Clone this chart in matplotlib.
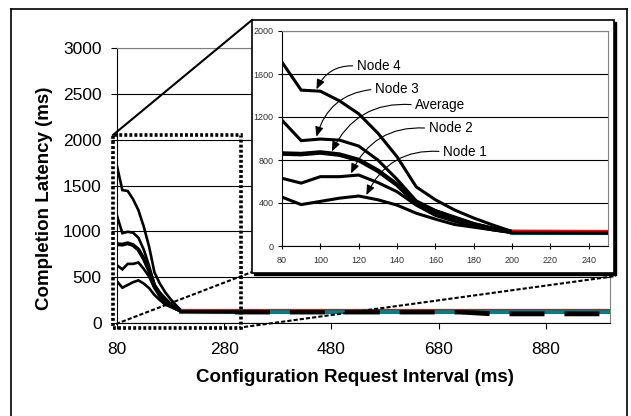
import matplotlib
matplotlib.use("Agg")
import matplotlib.pyplot as plt
from matplotlib.lines import Line2D
from matplotlib.patches import Rectangle

plt.rcParams['font.family'] = ['Liberation Sans', 'DejaVu Sans']

# data
x_ms = [80, 90, 100, 110, 120, 130, 140, 150, 160, 170, 180, 190, 200, 300]
node4 = [1710, 1450, 1440, 1350, 1230, 1050, 830, 550, 430, 335, 260, 195, 135, 125]
node3 = [1170, 980, 995, 985, 930, 800, 620, 420, 330, 270, 210, 165, 130, 125]
average = [860, 855, 870, 850, 800, 700, 570, 400, 320, 255, 200, 160, 130, 125]
node2 = [630, 585, 645, 645, 660, 590, 505, 380, 285, 230, 185, 150, 128, 122]
node1 = [455, 385, 415, 445, 465, 430, 380, 305, 250, 200, 175, 150, 125, 120]

x_tail = [200, 1000]
red_tail = [150, 150]
teal_tail = [120, 120]
x_dash = [300, 720, 780, 1000]
dash_tail = [120, 120, 100, 100]

main_xticks = [80, 280, 480, 680, 880]
main_yticks = [0, 500, 1000, 1500, 2000, 2500, 3000]
inset_xticks = [80, 100, 120, 140, 160, 180, 200, 220, 240]
inset_yticks = [0, 400, 800, 1200, 1600, 2000]

labels = ['Node 4', 'Node 3', 'Average', 'Node 2', 'Node 1']
label_xy = [(119, 1674), (128.5, 1458), (149.5, 1312), (156.5, 1095), (164, 877)]
tip_xy = [(98, 1458), (98, 1017), (106, 880), (116, 675), (124, 474)]

W, H = 631, 416
fig = plt.figure(figsize=(6.31, 4.16), dpi=100)


def fx(px):
    return px / W


def fy(py):
    return 1 - py / H


# outer frame (no bottom edge)
for xs, ys in [((11, 11), (9, 420)), ((11, 627), (9, 9)), ((627, 627), (9, 420))]:
    fig.add_artist(Line2D([fx(v) for v in xs], [fy(v) for v in ys], color='black', lw=1.2, zorder=1))


def draw_series(ax, lw, wide):
    ax.plot(x_tail, teal_tail, color='#008080', lw=wide * 0.85, zorder=3)
    ax.plot(x_dash, dash_tail, color='black', lw=wide, dashes=(7.2, 4.1), zorder=4)
    for ys in [node1, node2, node3, node4]:
        ax.plot(x_ms, ys, color='black', lw=lw, solid_joinstyle='miter', zorder=5)
    ax.plot(x_ms, average, color='black', lw=lw * 1.5, zorder=5)
    ax.plot(x_tail, red_tail, color='red', lw=0.9, zorder=6)


def style_axes(ax):
    for s in ['top', 'right']:
        ax.spines[s].set_color('#808080')
    for s in ['left', 'bottom']:
        ax.spines[s].set_color('black')
    ax.grid(axis='y', color='black', lw=0.8)
    ax.grid(axis='x', visible=False)
    ax.set_axisbelow(True)


# main chart
ax = fig.add_axes([fx(117), fy(323), fx(610) - fx(117), fy(48) - fy(323)])
draw_series(ax, 1.9, 3.5)
ax.set_xlim(80, 1000)
ax.set_ylim(0, 3000)
ax.set_xticks(main_xticks)
ax.set_yticks(main_yticks)
style_axes(ax)
ax.tick_params(axis='both', direction='out', length=4, labelsize=12.5, pad=7)
ax.tick_params(axis='x', pad=10)
ax.set_xlabel('Configuration Request Interval (ms)', fontsize=13.5, fontweight='bold')
ax.set_ylabel('Completion Latency (ms)', fontsize=13.5, fontweight='bold')
ax.xaxis.set_label_coords((355 - 117) / 493, (323 - 369) / 275)
ax.yaxis.set_label_coords((53 - 117) / 493, (323 - 198) / 275)

# dotted zoom box
ax.add_patch(Rectangle((72, -55), 240, 2105, fill=False, ec='black', lw=2.6,
                       ls=(0, (0.8, 0.6)), clip_on=False, zorder=7))

# connectors to the inset
fig.add_artist(Line2D([fx(113), fx(252)], [fy(135), fy(20)], color='black', lw=1.5, zorder=2))
fig.add_artist(Line2D([fx(116), fx(252)], [fy(324), fy(272)], color='black', lw=1.5,
                      ls=(0, (2, 1)), zorder=2))
fig.add_artist(Line2D([fx(244), fx(616)], [fy(327), fy(276)], color='black', lw=1.5,
                      ls=(0, (2, 1)), zorder=2))

# inset frame with shadow
fig.add_artist(Rectangle((fx(254), fy(275)), fx(616) - fx(254), fy(22) - fy(275),
                         transform=fig.transFigure, fc='black', ec='black', lw=1, zorder=3))
fig.add_artist(Rectangle((fx(252), fy(273)), fx(614) - fx(252), fy(20) - fy(273),
                         transform=fig.transFigure, fc='white', ec='black', lw=1.2, zorder=3))

# inset chart
ins = fig.add_axes([fx(282), fy(246), fx(608) - fx(282), fy(31) - fy(246)], zorder=4)
draw_series(ins, 2.2, 3.5)
ins.set_xlim(80, 250)
ins.set_ylim(0, 2000)
ins.set_xticks(inset_xticks)
ins.set_yticks(inset_yticks)
style_axes(ins)
ins.tick_params(axis='x', direction='inout', length=4, labelsize=6.5, labelcolor='#303030', pad=5)
ins.tick_params(axis='y', direction='out', length=3, labelsize=6.5, labelcolor='#303030', pad=3)

for name, (tx, ty), (px, py) in zip(labels, label_xy, tip_xy):
    ins.annotate(name, xy=(px, py), xytext=(tx, ty), ha='left', va='center', fontsize=9.75,
                 arrowprops=dict(arrowstyle='-|>,head_length=0.6,head_width=0.25', color='black',
                                 lw=0.8, relpos=(0, 0.5), shrinkA=1, shrinkB=0,
                                 connectionstyle='arc3,rad=0.35'), zorder=7)

fig.savefig('out.png', dpi=100, facecolor='white')
